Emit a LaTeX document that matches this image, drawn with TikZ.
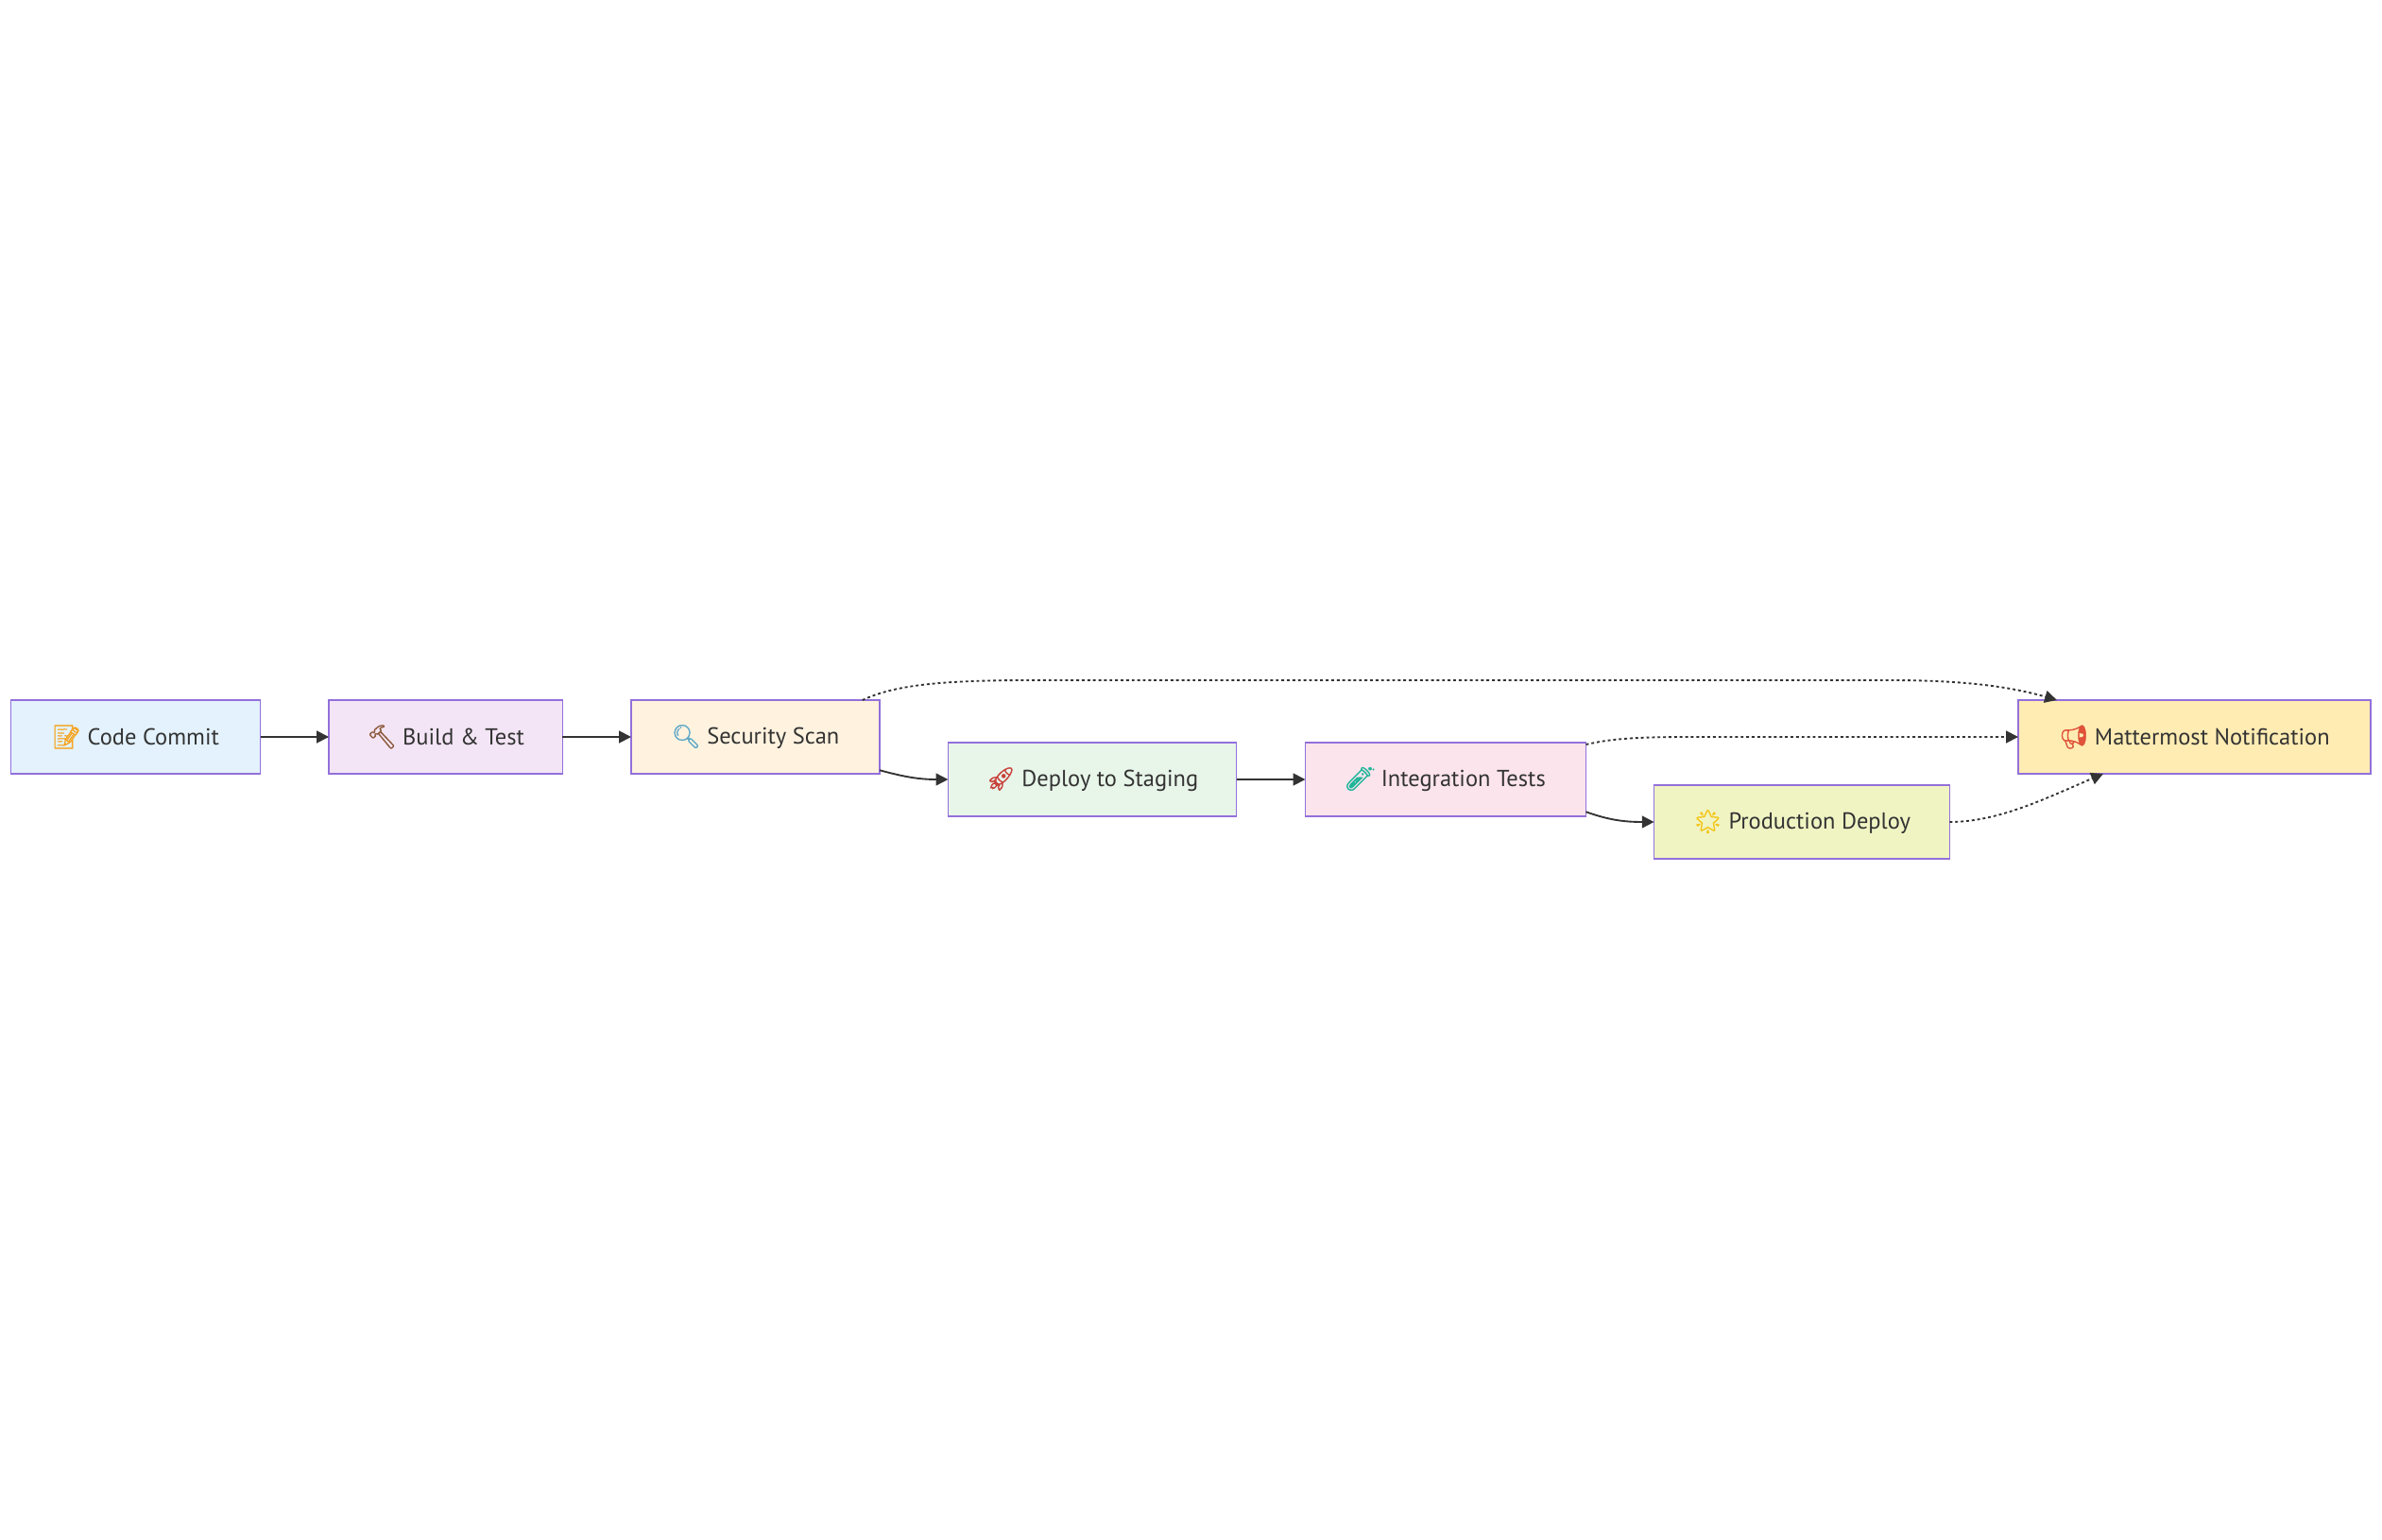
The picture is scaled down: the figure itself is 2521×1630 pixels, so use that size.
\documentclass[tikz,border=0pt]{standalone}
\usepackage{fontspec}
\usetikzlibrary{arrows.meta}
\setmainfont{PT Sans}
\newfontfamily\emojifont[FakeBold=1.5]{Noto Emoji}
\definecolor{boxline}{HTML}{9370DB}
\definecolor{ink}{HTML}{333333}
\definecolor{fillcommit}{HTML}{E3F2FD}
\definecolor{fillbuild}{HTML}{F3E5F5}
\definecolor{fillscan}{HTML}{FFF3E0}
\definecolor{fillstaging}{HTML}{E8F5E9}
\definecolor{filltests}{HTML}{FCE4EC}
\definecolor{fillprod}{HTML}{F0F4C3}
\definecolor{fillnotify}{HTML}{FFECB3}
\newcommand{\emo}[2]{\textcolor[HTML]{#1}{\emojifont #2}}
\tikzset{every picture/.style={line width=0.75pt},
  stepbox/.style={draw=boxline,line width=1.2pt,text=ink,font=\fontsize{18.35}{22}\selectfont,
    minimum height=58.5pt,inner sep=0pt,outer sep=0pt},
  flow/.style={draw=ink,line width=1.4pt,-{Triangle[length=9.6pt,width=9.6pt]}},
  notify/.style={flow,dash pattern=on 2.2pt off 2.2pt}}

\begin{document}
\begin{tikzpicture}[x=0.75pt,y=0.75pt,yscale=-1,xscale=1]
\useasboundingbox (0,0) rectangle (2521,1630);

% Text Node
\draw (143.5,780) node [stepbox,fill=fillcommit,minimum width=198pt] (commit) {\emo{F5A623}{📝} Code Commit};
% Text Node
\draw (471.75,780) node [stepbox,fill=fillbuild,minimum width=185.6pt] (build) {\emo{8D5A3C}{🔨} Build \& Test};
% Text Node
\draw (799.5,780) node [stepbox,fill=fillscan,minimum width=197.25pt] (scan) {\emo{5FA8C8}{🔍} Security Scan};
% Text Node
\draw (1156,825) node [stepbox,fill=fillstaging,minimum width=228.9pt] (staging) {\emo{C8403A}{🚀} Deploy to Staging};
% Text Node
\draw (1530,825) node [stepbox,fill=filltests,minimum width=222.75pt] (tests) {\emo{1FB59A}{🧪} Integration Tests};
% Text Node
\draw (1907,870) node [stepbox,fill=fillprod,minimum width=234.6pt] (prod) {\emo{F5C518}{🌟} Production Deploy};
% Text Node
\draw (2322.5,780) node [stepbox,fill=fillnotify,minimum width=279.75pt] (mattermost) {\emo{E0523A}{📢} Mattermost Notification};

%Straight Lines
\draw [flow] (commit) -- (build);
\draw [flow] (build) -- (scan);
\draw [flow] (staging) -- (tests);
%Curve Lines
\draw [flow] (scan.-15.3) .. controls (956,822) and (972,825) .. (staging.west);
\draw [flow] (tests.-13.9) .. controls (1703,868) and (1719,870) .. (prod.west);
%Dotted Lines
\draw [notify] (scan.19.4) .. controls (945,726) and (990,720) .. (1090,720) -- (2000,720) .. controls (2075,720) and (2125,726) .. (mattermost.165);
\draw [notify] (tests.14) .. controls (1705,782) and (1730,780) .. (1790,780) -- (mattermost.west);
\draw [notify] (prod.east) .. controls (2115,870) and (2165,845) .. (mattermost.202);

\end{tikzpicture}
\end{document}
